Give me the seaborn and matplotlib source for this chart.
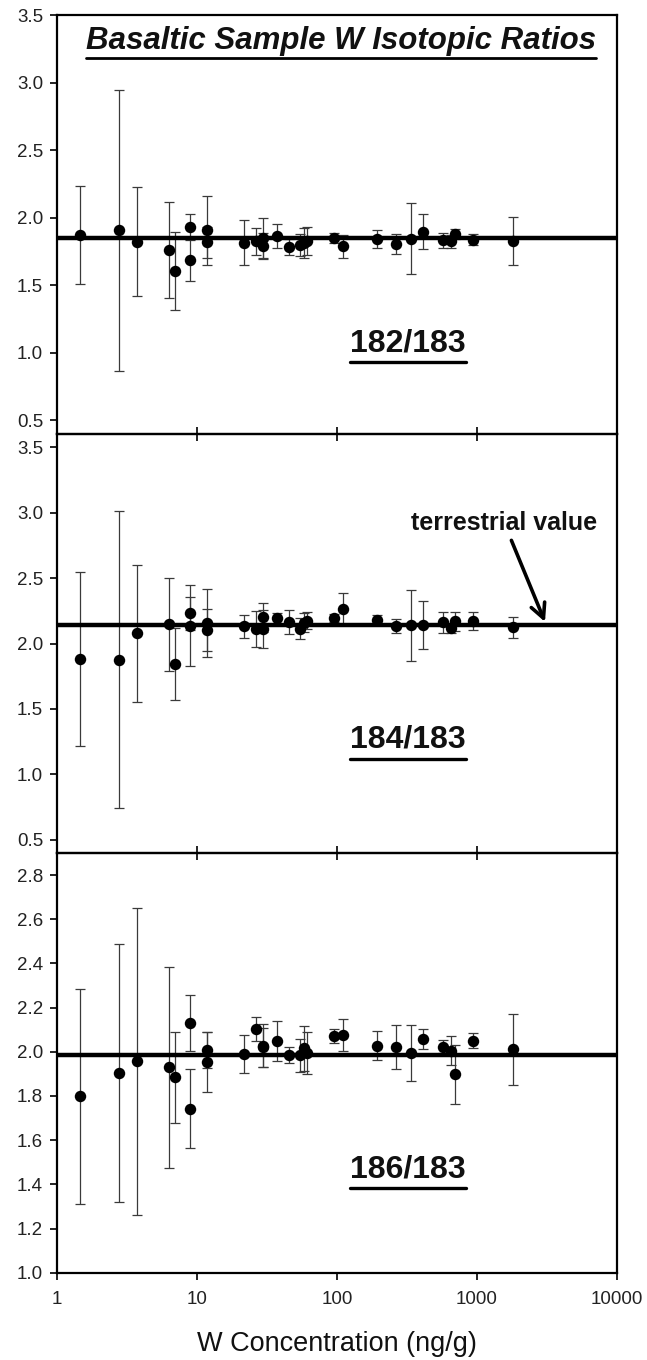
import numpy as np
import pandas as pd
import matplotlib
matplotlib.use("Agg")
import matplotlib.pyplot as plt
from matplotlib.lines import Line2D
from matplotlib.ticker import FixedLocator, NullLocator, FixedFormatter
import seaborn as sns

# W concentration of each basaltic sample (ng/g)
conc = [1.47, 2.75, 3.75, 6.36, 6.94, 8.85, 8.85, 11.8, 11.8, 21.8, 26.5, 29.8, 29.8,
        37.0, 45.3, 54.8, 58.2, 61.1, 95.5, 110, 193, 266, 338, 411, 571, 654, 700,
        937, 1806]

# 182W/183W and 2-sigma uncertainty
r182 = [1.872, 1.908, 1.823, 1.763, 1.608, 1.931, 1.689, 1.906, 1.817, 1.815, 1.825,
        1.850, 1.793, 1.866, 1.783, 1.800, 1.812, 1.828, 1.850, 1.788, 1.842, 1.807,
        1.845, 1.898, 1.833, 1.826, 1.880, 1.838, 1.828]
e182 = [0.360, 1.040, 0.405, 0.357, 0.288, 0.096, 0.155, 0.256, 0.115, 0.166, 0.099,
        0.150, 0.095, 0.088, 0.060, 0.080, 0.110, 0.100, 0.040, 0.087, 0.066, 0.072,
        0.263, 0.131, 0.055, 0.050, 0.040, 0.040, 0.176]

# 184W/183W and 2-sigma uncertainty
r184 = [1.882, 1.875, 2.077, 2.148, 1.843, 2.231, 2.135, 2.155, 2.104, 2.130, 2.110,
        2.199, 2.113, 2.191, 2.161, 2.113, 2.160, 2.173, 2.196, 2.262, 2.180, 2.135,
        2.140, 2.140, 2.162, 2.118, 2.169, 2.174, 2.123]
e184 = [0.665, 1.135, 0.525, 0.355, 0.277, 0.127, 0.310, 0.260, 0.162, 0.085, 0.137,
        0.110, 0.145, 0.045, 0.092, 0.080, 0.070, 0.065, 0.030, 0.120, 0.035, 0.055,
        0.270, 0.183, 0.080, 0.040, 0.075, 0.070, 0.080]

# 186W/183W and 2-sigma uncertainty
r186 = [1.798, 1.903, 1.957, 1.929, 1.884, 2.129, 1.743, 2.008, 1.953, 1.990, 2.103,
        2.027, 2.020, 2.050, 1.985, 1.985, 2.015, 1.993, 2.072, 2.076, 2.028, 2.020,
        1.995, 2.058, 2.023, 2.005, 1.898, 2.050, 2.011]
e186 = [0.488, 0.583, 0.695, 0.455, 0.207, 0.126, 0.180, 0.080, 0.135, 0.085, 0.055,
        0.097, 0.090, 0.091, 0.037, 0.075, 0.100, 0.095, 0.032, 0.073, 0.066, 0.100,
        0.128, 0.047, 0.030, 0.065, 0.135, 0.035, 0.160]

ratio_names = ["182/183", "184/183", "186/183"]
terrestrial = [1.8513, 2.1408, 1.9859]
ratios = [r182, r184, r186]
errors = [e182, e184, e186]

x_ticks = [1, 10, 100, 1000, 10000]
x_tick_labels = ["1", "10", "100", "1000", "10000"]

sns.set_theme(style="ticks")
plt.rcParams["font.family"] = ["Liberation Sans", "DejaVu Sans"]
plt.rcParams["axes.linewidth"] = 1.6

W, H = 647, 1360
fig = plt.figure(figsize=(W / 100, H / 100), dpi=100)
fig.patch.set_facecolor("white")

left = 57 / W
width = 560 / W
panel_boxes = [
    (left, 1 - 434 / H, width, 419 / H),
    (left, 1 - 853 / H, width, 419 / H),
    (left, 1 - 1272.7 / H, width, 419.7 / H),
]
ylims = [(0.4, 3.5), (0.4, 3.6), (1.0, 2.9)]
yticks = [np.arange(0.5, 3.51, 0.5), np.arange(0.5, 3.51, 0.5), np.arange(1.0, 2.81, 0.2)]
label_y = [0.217, 0.270, 0.247]

axes = []
label_texts = []
for i, box in enumerate(panel_boxes):
    ax = fig.add_axes(box)
    ax.set_facecolor("none")
    df = pd.DataFrame({"conc": conc, "ratio": ratios[i], "err": errors[i]})

    ax.errorbar(df["conc"], df["ratio"], yerr=df["err"], fmt="none",
                ecolor="#3a3a3a", elinewidth=0.9, capsize=3.4, capthick=0.9, zorder=2)
    ax.axhline(terrestrial[i], color="black", lw=3.2, zorder=3)
    sns.scatterplot(data=df, x="conc", y="ratio", ax=ax, color="black", s=68,
                    edgecolor="black", linewidth=0, zorder=4, legend=False)

    ax.set_xscale("log")
    ax.set_xlim(1, 10000)
    ax.set_ylim(*ylims[i])
    ax.xaxis.set_major_locator(FixedLocator(x_ticks))
    ax.xaxis.set_minor_locator(NullLocator())
    ax.yaxis.set_major_locator(FixedLocator(yticks[i]))
    ax.yaxis.set_minor_locator(NullLocator())
    ax.set_yticklabels([f"{v:.1f}" for v in yticks[i]])
    ax.set_xlabel("")
    ax.set_ylabel("")
    for sp in ax.spines.values():
        sp.set_visible(True)
        sp.set_color("black")
        sp.set_linewidth(1.6)

    ax.tick_params(axis="y", direction="out", length=5, width=1.2, pad=5,
                   labelsize=13.5, labelcolor="#222222", color="black")
    if i < 2:
        ax.tick_params(axis="x", direction="inout", length=10, width=1.2,
                       labelbottom=False, color="black")
    else:
        ax.xaxis.set_major_formatter(FixedFormatter(x_tick_labels))
        ax.tick_params(axis="x", direction="out", length=5, width=1.2, pad=8,
                       labelsize=13.5, labelcolor="#222222", color="black")
        ax.set_xlabel("W Concentration (ng/g)", fontsize=19.5, color="#111111",
                      labelpad=17)

    t = ax.text(0.627, label_y[i], ratio_names[i], transform=ax.transAxes,
                ha="center", va="center", fontsize=23, fontweight="bold",
                color="#111111")
    label_texts.append(t)
    axes.append(ax)

title = axes[0].text(0.507, 0.938, "Basaltic Sample W Isotopic Ratios",
                     transform=axes[0].transAxes, ha="center", va="center",
                     fontsize=22.5, fontweight="bold", fontstyle="italic",
                     color="#111111")

axes[1].annotate("terrestrial value", xy=(3060, 2.165), xytext=(1560, 2.924),
                 textcoords="data", ha="center", va="center", fontsize=18,
                 fontweight="bold", color="#111111", zorder=6,
                 arrowprops=dict(arrowstyle="->", color="black", lw=2.6,
                                 mutation_scale=26, shrinkA=2, shrinkB=0))

# underline the title and the ratio labels
fig.canvas.draw()
renderer = fig.canvas.get_renderer()
for t, gap, lw in [(title, 2, 2.0)] + [(lt, 4, 2.4) for lt in label_texts]:
    bb = t.get_window_extent(renderer)
    y = (bb.y0 - gap) / H
    fig.add_artist(Line2D([bb.x0 / W, bb.x1 / W], [y, y], transform=fig.transFigure,
                          color="black", lw=lw))

fig.savefig("out.png", dpi=100, facecolor="white")
